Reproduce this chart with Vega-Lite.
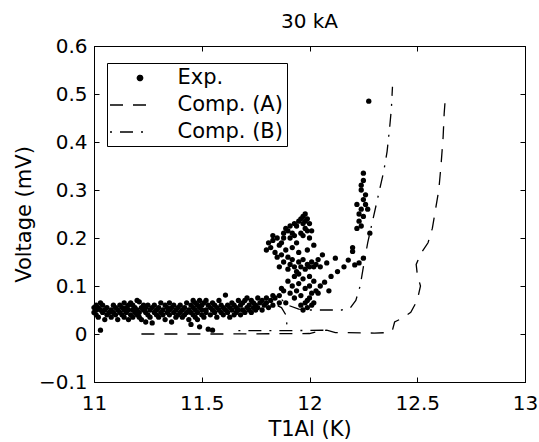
{
  "$schema": "https://vega.github.io/schema/vega-lite/v6.json",
  "width": 431,
  "height": 336,
  "autosize": {"type": "none"},
  "padding": {"left": 94, "top": 46, "right": 14, "bottom": 60},
  "background": "white",
  "title": {"text": "30 kA", "fontSize": 20, "font": "DejaVu Sans", "fontWeight": "normal", "baseline": "alphabetic", "offset": -12, "anchor": "middle", "frame": "group", "color": "black"},
  "config": {
    "view": {"stroke": "black", "strokeWidth": 1},
    "axis": {"labelFont": "DejaVu Sans", "labelFontSize": 20, "titleFont": "DejaVu Sans", "titleFontSize": 21, "titleFontWeight": "normal", "tickColor": "black", "domainColor": "black", "labelColor": "black", "titleColor": "black", "grid": false, "tickSize": -5, "tickWidth": 1, "domainWidth": 1, "labelFlush": false},
    "legend": {"orient": "none", "legendX": 13, "legendY": 17, "strokeColor": "black", "fillColor": "white", "padding": 4, "labelFont": "DejaVu Sans", "labelFontSize": 21, "labelColor": "black", "symbolSize": 400, "symbolType": "M-1.85,0H1.85", "symbolStrokeWidth": 1.3, "symbolStrokeColor": "black", "symbolOffset": 6.5, "labelOffset": 38, "rowPadding": 6, "title": null}
  },
  "datasets": {
    "exp": [
      {"T":11.00,"V":0.055},{"T":11.00,"V":0.045},{"T":11.01,"V":0.06},{"T":11.01,"V":0.04},{"T":11.01,"V":0.05},{"T":11.02,"V":0.035},{"T":11.02,"V":0.055},{"T":11.03,"V":0.008},{"T":11.03,"V":0.05},{"T":11.03,"V":0.065},
      {"T":11.04,"V":0.045},{"T":11.04,"V":0.06},{"T":11.05,"V":0.03},{"T":11.05,"V":0.05},{"T":11.06,"V":0.04},{"T":11.06,"V":0.055},{"T":11.07,"V":0.045},{"T":11.08,"V":0.05},{"T":11.08,"V":0.035},{"T":11.09,"V":0.06},
      {"T":11.09,"V":0.045},{"T":11.10,"V":0.04},{"T":11.10,"V":0.055},{"T":11.11,"V":0.05},{"T":11.11,"V":0.03},{"T":11.12,"V":0.045},{"T":11.12,"V":0.06},{"T":11.13,"V":0.055},{"T":11.13,"V":0.04},{"T":11.14,"V":0.035},
      {"T":11.14,"V":0.05},{"T":11.14,"V":0.065},{"T":11.15,"V":0.045},{"T":11.15,"V":0.055},{"T":11.16,"V":0.03},{"T":11.16,"V":0.06},{"T":11.16,"V":0.05},{"T":11.17,"V":0.04},{"T":11.17,"V":0.065},{"T":11.18,"V":0.05},
      {"T":11.18,"V":0.035},{"T":11.18,"V":0.06},{"T":11.19,"V":0.045},{"T":11.19,"V":0.055},{"T":11.20,"V":0.04},{"T":11.20,"V":0.07},{"T":11.20,"V":0.05},{"T":11.21,"V":0.067},{"T":11.21,"V":0.035},{"T":11.21,"V":0.045},
      {"T":11.22,"V":0.055},{"T":11.22,"V":0.03},{"T":11.23,"V":0.05},{"T":11.23,"V":0.06},{"T":11.24,"V":0.025},{"T":11.24,"V":0.045},{"T":11.24,"V":0.055},{"T":11.25,"V":0.04},{"T":11.25,"V":0.06},{"T":11.26,"V":0.05},
      {"T":11.26,"V":0.035},{"T":11.27,"V":0.023},{"T":11.27,"V":0.055},{"T":11.28,"V":0.045},{"T":11.28,"V":0.06},{"T":11.29,"V":0.04},{"T":11.29,"V":0.05},{"T":11.30,"V":0.055},{"T":11.30,"V":0.035},{"T":11.31,"V":0.045},
      {"T":11.31,"V":0.065},{"T":11.32,"V":0.05},{"T":11.32,"V":0.04},{"T":11.33,"V":0.06},{"T":11.33,"V":0.03},{"T":11.34,"V":0.045},{"T":11.34,"V":0.055},{"T":11.35,"V":0.04},{"T":11.35,"V":0.065},{"T":11.35,"V":0.05},
      {"T":11.36,"V":0.025},{"T":11.36,"V":0.055},{"T":11.37,"V":0.045},{"T":11.37,"V":0.06},{"T":11.38,"V":0.05},{"T":11.38,"V":0.035},{"T":11.39,"V":0.04},{"T":11.39,"V":0.055},{"T":11.40,"V":0.06},{"T":11.40,"V":0.045},
      {"T":11.41,"V":0.035},{"T":11.41,"V":0.05},{"T":11.42,"V":0.055},{"T":11.42,"V":0.04},{"T":11.43,"V":0.045},{"T":11.43,"V":0.065},{"T":11.44,"V":0.03},{"T":11.44,"V":0.05},{"T":11.45,"V":0.06},{"T":11.45,"V":0.02},
      {"T":11.45,"V":0.045},{"T":11.46,"V":0.07},{"T":11.46,"V":0.04},{"T":11.46,"V":0.055},{"T":11.47,"V":0.05},{"T":11.47,"V":0.035},{"T":11.47,"V":0.065},{"T":11.48,"V":0.045},{"T":11.48,"V":0.06},{"T":11.48,"V":0.03},
      {"T":11.49,"V":0.015},{"T":11.49,"V":0.055},{"T":11.49,"V":0.07},{"T":11.50,"V":0.04},{"T":11.50,"V":0.06},{"T":11.50,"V":0.05},{"T":11.51,"V":0.065},{"T":11.51,"V":0.035},{"T":11.52,"V":0.05},{"T":11.52,"V":0.045},
      {"T":11.52,"V":0.07},{"T":11.53,"V":0.01},{"T":11.53,"V":0.06},{"T":11.54,"V":0.04},{"T":11.54,"V":0.055},{"T":11.55,"V":0.008},{"T":11.55,"V":0.05},{"T":11.55,"V":0.065},{"T":11.56,"V":0.045},{"T":11.56,"V":0.06},
      {"T":11.57,"V":0.035},{"T":11.57,"V":0.055},{"T":11.58,"V":0.05},{"T":11.58,"V":0.07},{"T":11.59,"V":0.045},{"T":11.59,"V":0.06},{"T":11.60,"V":0.055},{"T":11.60,"V":0.04},{"T":11.61,"V":0.081},{"T":11.61,"V":0.05},
      {"T":11.62,"V":0.045},{"T":11.62,"V":0.06},{"T":11.63,"V":0.035},{"T":11.63,"V":0.055},{"T":11.64,"V":0.05},{"T":11.64,"V":0.065},{"T":11.65,"V":0.04},{"T":11.65,"V":0.06},{"T":11.66,"V":0.055},{"T":11.66,"V":0.045},
      {"T":11.67,"V":0.05},{"T":11.67,"V":0.07},{"T":11.68,"V":0.06},{"T":11.68,"V":0.04},{"T":11.69,"V":0.065},{"T":11.69,"V":0.05},{"T":11.70,"V":0.045},{"T":11.70,"V":0.07},{"T":11.71,"V":0.055},{"T":11.71,"V":0.075},
      {"T":11.72,"V":0.06},{"T":11.72,"V":0.05},{"T":11.73,"V":0.07},{"T":11.73,"V":0.045},{"T":11.74,"V":0.055},{"T":11.74,"V":0.065},{"T":11.75,"V":0.06},{"T":11.75,"V":0.05},{"T":11.76,"V":0.075},{"T":11.76,"V":0.055},
      {"T":11.77,"V":0.065},{"T":11.78,"V":0.07},{"T":11.78,"V":0.05},{"T":11.79,"V":0.06},{"T":11.80,"V":0.065},{"T":11.80,"V":0.075},{"T":11.81,"V":0.055},{"T":11.82,"V":0.07},{"T":11.83,"V":0.06},{"T":11.83,"V":0.08},
      {"T":11.84,"V":0.075},{"T":11.86,"V":0.065},
      {"T":11.80,"V":0.175},{"T":11.81,"V":0.19},{"T":11.82,"V":0.18},{"T":11.83,"V":0.195},{"T":11.84,"V":0.17},{"T":11.85,"V":0.2},{"T":11.86,"V":0.185},{"T":11.87,"V":0.19},{"T":11.88,"V":0.2},{"T":11.85,"V":0.16},
      {"T":11.87,"V":0.165},{"T":11.89,"V":0.175},{"T":11.90,"V":0.16},{"T":11.83,"V":0.205},
      {"T":11.88,"V":0.21},{"T":11.89,"V":0.22},{"T":11.90,"V":0.215},{"T":11.91,"V":0.225},{"T":11.92,"V":0.21},{"T":11.93,"V":0.23},{"T":11.94,"V":0.225},{"T":11.95,"V":0.235},{"T":11.91,"V":0.2},{"T":11.93,"V":0.205},
      {"T":11.96,"V":0.24},{"T":11.97,"V":0.245},{"T":11.98,"V":0.25},{"T":11.99,"V":0.24},{"T":11.97,"V":0.23},{"T":11.98,"V":0.22},{"T":11.99,"V":0.215},{"T":12.00,"V":0.23},{"T":11.96,"V":0.21},{"T":12.00,"V":0.2},
      {"T":11.98,"V":0.235},{"T":12.01,"V":0.215},{"T":11.97,"V":0.205},
      {"T":11.86,"V":0.14},{"T":11.88,"V":0.15},{"T":11.90,"V":0.135},{"T":11.91,"V":0.145},{"T":11.92,"V":0.155},{"T":11.93,"V":0.14},{"T":11.94,"V":0.13},{"T":11.95,"V":0.15},{"T":11.96,"V":0.14},{"T":11.97,"V":0.155},
      {"T":11.98,"V":0.135},{"T":11.99,"V":0.145},{"T":12.00,"V":0.14},{"T":12.01,"V":0.15},{"T":12.02,"V":0.14},{"T":12.03,"V":0.145},{"T":12.04,"V":0.155},{"T":12.05,"V":0.14},{"T":11.95,"V":0.17},{"T":11.92,"V":0.18},
      {"T":11.99,"V":0.175},{"T":12.02,"V":0.185},{"T":11.94,"V":0.19},
      {"T":11.90,"V":0.11},{"T":11.92,"V":0.1},{"T":11.93,"V":0.12},{"T":11.94,"V":0.09},{"T":11.95,"V":0.105},{"T":11.96,"V":0.08},{"T":11.97,"V":0.115},{"T":11.98,"V":0.095},{"T":11.99,"V":0.07},{"T":12.00,"V":0.1},
      {"T":12.01,"V":0.085},{"T":12.02,"V":0.11},{"T":11.96,"V":0.06},{"T":11.97,"V":0.05},{"T":11.98,"V":0.065},{"T":11.99,"V":0.055},{"T":12.00,"V":0.075},{"T":12.01,"V":0.06},{"T":12.03,"V":0.09},{"T":11.95,"V":0.125},
      {"T":12.00,"V":0.12},{"T":11.93,"V":0.075},{"T":11.91,"V":0.085},{"T":11.88,"V":0.09},{"T":11.87,"V":0.095},{"T":11.86,"V":0.08},{"T":11.89,"V":0.065},{"T":12.02,"V":0.065},{"T":12.04,"V":0.085},{"T":12.05,"V":0.1},
      {"T":12.07,"V":0.108},{"T":12.08,"V":0.148},{"T":12.12,"V":0.158},{"T":12.13,"V":0.13},{"T":12.16,"V":0.14},{"T":12.18,"V":0.154},{"T":12.20,"V":0.18},{"T":12.20,"V":0.172},{"T":12.21,"V":0.144},{"T":12.23,"V":0.148},
      {"T":12.25,"V":0.158},{"T":12.10,"V":0.12},{"T":12.06,"V":0.165},{"T":12.09,"V":0.09},
      {"T":12.22,"V":0.22},{"T":12.23,"V":0.235},{"T":12.24,"V":0.225},{"T":12.23,"V":0.25},{"T":12.24,"V":0.26},{"T":12.25,"V":0.245},{"T":12.26,"V":0.27},{"T":12.25,"V":0.28},{"T":12.26,"V":0.29},{"T":12.24,"V":0.3},
      {"T":12.24,"V":0.31},{"T":12.25,"V":0.32},{"T":12.25,"V":0.335},{"T":12.28,"V":0.21},{"T":12.27,"V":0.26},{"T":12.22,"V":0.27},
      {"T":12.275,"V":0.485}
    ],
    "comp": [
      {"series":"Comp. (A)","seg":"a","i":1,"T":11.22,"V":0.0},
      {"series":"Comp. (A)","seg":"a","i":2,"T":11.6,"V":0.0},
      {"series":"Comp. (A)","seg":"a","i":3,"T":12.0,"V":0.001},
      {"series":"Comp. (A)","seg":"a","i":4,"T":12.05,"V":0.006},
      {"series":"Comp. (A)","seg":"a","i":5,"T":12.08,"V":0.008},
      {"series":"Comp. (A)","seg":"a","i":6,"T":12.12,"V":0.003},
      {"series":"Comp. (A)","seg":"a","i":7,"T":12.3,"V":0.002},
      {"series":"Comp. (A)","seg":"a","i":8,"T":12.37,"V":0.003},
      {"series":"Comp. (A)","seg":"a","i":9,"T":12.385,"V":0.008},
      {"series":"Comp. (A)","seg":"a","i":10,"T":12.395,"V":0.025},
      {"series":"Comp. (A)","seg":"a","i":11,"T":12.43,"V":0.033},
      {"series":"Comp. (A)","seg":"a","i":12,"T":12.47,"V":0.045},
      {"series":"Comp. (A)","seg":"a","i":13,"T":12.5,"V":0.07},
      {"series":"Comp. (A)","seg":"a","i":14,"T":12.515,"V":0.1},
      {"series":"Comp. (A)","seg":"a","i":15,"T":12.5,"V":0.125},
      {"series":"Comp. (A)","seg":"a","i":16,"T":12.495,"V":0.145},
      {"series":"Comp. (A)","seg":"a","i":17,"T":12.52,"V":0.17},
      {"series":"Comp. (A)","seg":"a","i":18,"T":12.55,"V":0.19},
      {"series":"Comp. (A)","seg":"a","i":19,"T":12.57,"V":0.22},
      {"series":"Comp. (A)","seg":"a","i":20,"T":12.585,"V":0.26},
      {"series":"Comp. (A)","seg":"a","i":21,"T":12.6,"V":0.3},
      {"series":"Comp. (A)","seg":"a","i":22,"T":12.61,"V":0.35},
      {"series":"Comp. (A)","seg":"a","i":23,"T":12.62,"V":0.41},
      {"series":"Comp. (A)","seg":"a","i":24,"T":12.625,"V":0.46},
      {"series":"Comp. (A)","seg":"a","i":25,"T":12.63,"V":0.49},
      {"series":"Comp. (B)","seg":"b1","i":1,"T":11.67,"V":0.007},
      {"series":"Comp. (B)","seg":"b1","i":2,"T":11.9,"V":0.007},
      {"series":"Comp. (B)","seg":"b1","i":3,"T":12.1,"V":0.008},
      {"series":"Comp. (B)","seg":"b2","i":1,"T":11.895,"V":0.02},
      {"series":"Comp. (B)","seg":"b2","i":2,"T":11.89,"V":0.04},
      {"series":"Comp. (B)","seg":"b2","i":3,"T":11.87,"V":0.055},
      {"series":"Comp. (B)","seg":"b2","i":4,"T":11.855,"V":0.058},
      {"series":"Comp. (B)","seg":"b2","i":5,"T":11.855,"V":0.07},
      {"series":"Comp. (B)","seg":"b2","i":6,"T":11.87,"V":0.072},
      {"series":"Comp. (B)","seg":"b2","i":7,"T":11.9,"V":0.06},
      {"series":"Comp. (B)","seg":"b2","i":8,"T":11.95,"V":0.052},
      {"series":"Comp. (B)","seg":"b2","i":9,"T":12.0,"V":0.05},
      {"series":"Comp. (B)","seg":"b2","i":10,"T":12.15,"V":0.05},
      {"series":"Comp. (B)","seg":"b2","i":11,"T":12.19,"V":0.055},
      {"series":"Comp. (B)","seg":"b2","i":12,"T":12.215,"V":0.07},
      {"series":"Comp. (B)","seg":"b2","i":13,"T":12.235,"V":0.1},
      {"series":"Comp. (B)","seg":"b2","i":14,"T":12.25,"V":0.14},
      {"series":"Comp. (B)","seg":"b2","i":15,"T":12.27,"V":0.19},
      {"series":"Comp. (B)","seg":"b2","i":16,"T":12.29,"V":0.23},
      {"series":"Comp. (B)","seg":"b2","i":17,"T":12.32,"V":0.29},
      {"series":"Comp. (B)","seg":"b2","i":18,"T":12.345,"V":0.34},
      {"series":"Comp. (B)","seg":"b2","i":19,"T":12.36,"V":0.38},
      {"series":"Comp. (B)","seg":"b2","i":20,"T":12.372,"V":0.43},
      {"series":"Comp. (B)","seg":"b2","i":21,"T":12.38,"V":0.47},
      {"series":"Comp. (B)","seg":"b2","i":22,"T":12.385,"V":0.515}
    ]
  },
  "layer": [
    {
      "data": {"name": "exp"},
      "mark": {"type": "point", "filled": true, "size": 28, "color": "black", "opacity": 1, "shape": "circle"},
      "encoding": {
        "x": {"field": "T", "type": "quantitative", "scale": {"domain": [11, 13], "nice": false, "zero": false},
              "axis": {"orient": "bottom", "title": "T1Al (K)", "values": [11, 11.5, 12, 12.5, 13], "format": "~g", "labelPadding": 16, "titlePadding": 5}},
        "y": {"field": "V", "type": "quantitative", "scale": {"domain": [-0.1, 0.6], "nice": false, "zero": false},
              "axis": {"orient": "left", "title": "Voltage (mV)", "values": [-0.1, 0, 0.1, 0.2, 0.3, 0.4, 0.5, 0.6], "format": "~g", "labelPadding": 12, "titlePadding": 4}}
      }
    },
    {
      "data": {"name": "comp"},
      "mark": {"type": "line", "color": "black", "strokeWidth": 1.3},
      "encoding": {
        "x": {"field": "T", "type": "quantitative", "axis": {"orient": "top", "labels": false, "title": null, "values": [11, 11.5, 12, 12.5, 13]}},
        "y": {"field": "V", "type": "quantitative", "axis": {"orient": "right", "labels": false, "title": null, "values": [-0.1, 0, 0.1, 0.2, 0.3, 0.4, 0.5, 0.6]}},
        "detail": {"field": "seg"},
        "order": {"field": "i"},
        "strokeDash": {"field": "series", "type": "nominal",
          "scale": {"domain": ["Exp.", "Comp. (A)", "Comp. (B)"], "range": [[1, 0], [13, 10], [2, 8, 13, 8]]},
          "legend": {"encode": {"symbols": {"update": {
            "shape": {"signal": "datum.value === 'Exp.' ? 'M0.88,0A0.27,0.27,0,1,0,1.42,0A0.27,0.27,0,1,0,0.88,0Z' : 'M-1.85,0H1.85'"},
            "fill": {"signal": "datum.value === 'Exp.' ? 'black' : 'transparent'"},
            "stroke": {"value": "black"},
            "strokeWidth": {"value": 1.3},
            "opacity": {"value": 1}
          }}}}
        }
      }
    }
  ],
  "resolve": {"axis": {"x": "independent", "y": "independent"}}
}
